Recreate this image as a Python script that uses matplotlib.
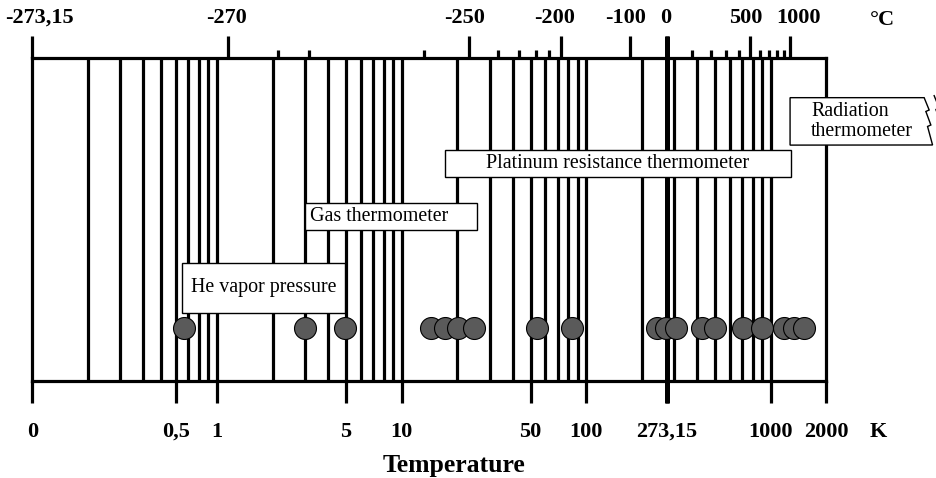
import numpy as np
import matplotlib
matplotlib.use("Agg")
import matplotlib.pyplot as plt
from matplotlib.patches import Rectangle, Polygon
from matplotlib.transforms import ScaledTranslation

plt.rcParams['font.family'] = ['Liberation Serif', 'DejaVu Serif']

# lineas verticales de la escala (K)
grid_K = [0.2, 0.3, 0.4, 0.5, 0.6, 0.7, 0.8, 0.9, 1,
          2, 3, 4, 5, 6, 7, 8, 9, 10,
          20, 30, 40, 50, 60, 70, 80, 90, 100,
          200, 300, 400, 500, 600, 700, 800, 900, 1000]

# eje inferior en K
bottom_ticks_K = [0.1, 0.6, 1, 5, 10, 50, 100, 273.15, 1000, 2000]
bottom_labels = ["0", "0,5", "1", "5", "10", "50", "100", "273,15", "1000", "2000"]

# eje superior en grados C
top_major_C = [-273.05, -272, -250, -200, -100, 0, 500, 1000]
top_labels = ["-273,15", "-270", "-250", "-200", "-100", "0", "500", "1000"]
top_minor_C = [-271, -270, -260, -240, -230, -220, -210,
               100, 200, 300, 400, 600, 700, 800, 900]

# puntos fijos (K)
fixed_K = [0.66, 3.0, 4.96, 14.5, 17.1, 20.2, 24.6, 54, 83.4,
           243, 270, 306, 421, 499, 703, 895, 1173, 1339, 1517]

# rangos de cada termometro (K)
methods = ["He vapor pressure", "Gas thermometer",
           "Platinum resistance thermometer", "Radiation\nthermometer"]
method_lo_K = [0.646, 3.0, 17.1, 1270]
method_hi_K = [4.92, 25.7, 1285, 6760]

# posicion vertical de las cajas (fraccion del eje)
box_y0 = [0.211, 0.467, 0.630, 0.730]
box_y1 = [0.364, 0.552, 0.715, 0.877]
text_align = ["center", "left", "center", "left"]
text_dx = [0, 5, 0, 21]
# corrimiento de las etiquetas de arriba (px)
top_label_dx = [7, -2, -4.5, -7, -4.5, -0.7, -5, 8]

fig = plt.figure(figsize=(9.36, 4.78), dpi=100)
ax = fig.add_axes([0.0345, 0.2036, 0.8485, 0.6751])
ax.set_xscale('log')
ax.set_xlim(0.1, 2000)
ax.set_ylim(0, 1)
ax.set_yticks([])

ax.vlines(grid_K, 0, 1, color='black', lw=2.3)
ax.vlines([273.15], -0.068, 1.068, color='black', lw=3.6, clip_on=False, zorder=2.5)
for s in ax.spines.values():
    s.set_linewidth(2.3)

ax.set_xticks(bottom_ticks_K, bottom_labels, fontweight='bold')
ax.xaxis.set_minor_locator(plt.NullLocator())
ax.tick_params(axis='x', direction='out', length=15.8, width=2.3, pad=24.5, labelsize=16)
for lbl in ax.get_xticklabels():
    lbl.set_va('baseline')

ax2 = ax.twiny()
ax2.set_xscale('log')
ax2.set_xlim(ax.get_xlim())
ax2.set_xticks(np.array(top_major_C) + 273.15, top_labels, fontweight='bold')
ax2.set_xticks(np.array(top_minor_C) + 273.15, minor=True)
ax2.xaxis.set_minor_formatter(plt.NullFormatter())
ax2.tick_params(which='major', direction='out', length=15.8, width=2.3, pad=6, labelsize=16)
ax2.tick_params(which='minor', direction='out', length=5.8, width=2.3)
for s in ax2.spines.values():
    s.set_visible(False)
for lbl, dx in zip(ax2.get_xticklabels(), top_label_dx):
    lbl.set_transform(lbl.get_transform() + ScaledTranslation(dx / 100, 0, fig.dpi_scale_trans))

ax.text(1.065, -0.1735, "K", transform=ax.transAxes, ha='center', va='baseline',
        fontsize=16, fontweight='bold')
ax.text(1.070, 1.1023, "°C", transform=ax.transAxes, ha='center', va='baseline',
        fontsize=16, fontweight='bold')
ax.text(0.531, -0.282, "Temperature", transform=ax.transAxes, ha='center', va='baseline',
        fontsize=18.5, fontweight='bold')

# circulos de los puntos fijos
ax.scatter(fixed_K, np.full(len(fixed_K), 0.164), s=250, c='#5a5a5a',
           edgecolors='black', linewidths=0.8, zorder=5)

# pixeles por decada y por unidad de y
dpx = 0.8485 * 936 / np.log10(2000 / 0.1)
ypx = 0.6751 * 478


def shift(k, px):
    return k * 10 ** (px / dpx)


for i in range(3):
    lo, hi = method_lo_K[i], method_hi_K[i]
    ax.add_patch(Rectangle((lo, box_y0[i]), hi - lo, box_y1[i] - box_y0[i],
                           facecolor='white', edgecolor='black', lw=1.0, zorder=3))

# caja de radiacion con borde quebrado
lo, hi, y0, y1 = method_lo_K[3], method_hi_K[3], box_y0[3], box_y1[3]
zig = [(0, 0), (5, 12.3), (1.7, 13.8), (6.7, 27.3), (3.4, 28.8), (8.4, 47.3)]
pts = [(lo, y0), (lo, y1)] + [(shift(hi, dx), y1 - dy / ypx) for dx, dy in zig]
ax.add_patch(Polygon(pts, closed=True, facecolor='white', edgecolor='black',
                     lw=1.0, zorder=3, clip_on=False))
ax.plot([shift(hi, dx + 10) for dx, dy in zig], [y1 + 2 / ypx - dy / ypx for dx, dy in zig],
        color='black', lw=1.0, clip_on=False, zorder=3)

for i in range(4):
    ym = (box_y0[i] + box_y1[i]) / 2
    if text_align[i] == "center":
        x = np.sqrt(method_lo_K[i] * method_hi_K[i])
    else:
        x = method_lo_K[i]
    ax.annotate(methods[i], (x, ym), xytext=(text_dx[i] * 0.72, 0), textcoords='offset points',
                ha=text_align[i], va='center', fontsize=14.4, linespacing=1.1,
                zorder=4, annotation_clip=False)

fig.savefig("out.png", dpi=100)
